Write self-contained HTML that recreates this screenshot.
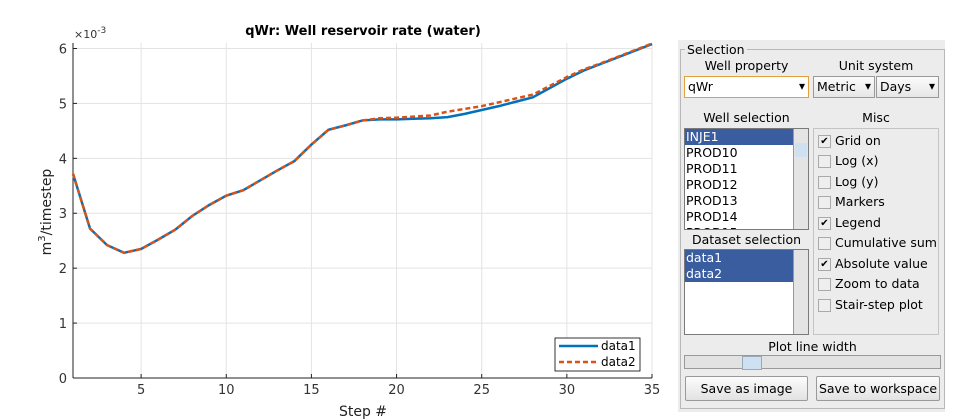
<!DOCTYPE html>
<html><head><meta charset="utf-8"><style>
body{margin:0;width:970px;height:420px;background:#fff;position:relative;overflow:hidden;font-family:"DejaVu Sans","Liberation Sans",sans-serif;}
.a{position:absolute;}
.p{font-size:12.5px;color:#000;}
.lb{background:#fff;border:1px solid #7a7a7a;box-sizing:border-box;overflow:hidden}
.row{height:16px;line-height:16px;font-size:12.5px;padding-left:1px;white-space:nowrap}
.sel{background:#3a5da0;color:#fff}
.sb{position:absolute;right:0;top:0;bottom:0;width:14px;background:#e4e4e4;border-left:1px solid #999}
.pop{background:linear-gradient(#fbfbfb,#e6e6e6);border:1px solid #9a9a9a;box-sizing:border-box;font-size:12.5px;line-height:19px;padding-left:3px}
.pop:after{content:"▾";position:absolute;right:3px;top:0;font-size:12px}
.cb{position:absolute;left:4px;width:11px;height:11px;border:1px solid #aaa;background:#eee;font-size:10px;line-height:11px;text-align:center}
.ck{position:absolute;left:21px;font-size:12.5px;white-space:nowrap}
.btn{background:linear-gradient(#fcfcfc,#e2e2e2);border:1px solid #999;box-sizing:border-box;font-size:12.5px;text-align:center;line-height:23px;border-radius:2px}
</style></head><body>
<svg class="a" style="left:0;top:0" width="680" height="420">
<g id="grid"></g><g id="ticks"></g><g id="lines"></g>
<text x="363" y="35" text-anchor="middle" font-family="DejaVu Sans,sans-serif" font-weight="bold" font-size="13">qWr: Well reservoir rate (water)</text>
<text x="74" y="38" font-size="11" fill="#333" font-family="DejaVu Sans,sans-serif">×10<tspan dy="-5" font-size="9">-3</tspan></text>
<text transform="translate(51,212) rotate(-90)" text-anchor="middle" font-size="14" fill="#222" font-family="DejaVu Sans,sans-serif">m<tspan dy="-6" font-size="10">3</tspan><tspan dy="6">/timestep</tspan></text>
<text x="363" y="416" text-anchor="middle" font-size="14" fill="#222" font-family="DejaVu Sans,sans-serif">Step #</text>
<g>
<rect x="555" y="338" width="85" height="33" fill="#fff" stroke="#000" stroke-width="0.8"/>
<line x1="559" y1="346" x2="598" y2="346" stroke="#0072bd" stroke-width="2.5"/>
<text x="601" y="350" font-size="12" font-family="DejaVu Sans,sans-serif">data1</text>
<line x1="559" y1="362" x2="598" y2="362" stroke="#d95319" stroke-width="2.5" stroke-dasharray="5,3"/>
<text x="601" y="366" font-size="12" font-family="DejaVu Sans,sans-serif">data2</text>
</g>
</svg>
<script>
const steps=[1,2,3,4,5,6,7,8,9,10,11,12,13,14,15,16,17,18,19,20,21,22,23,24,25,26,27,28,29,30,31,32,33,34,35];
const data1=[3.72,2.72,2.42,2.28,2.35,2.52,2.7,2.95,3.15,3.32,3.42,3.6,3.78,3.95,4.25,4.52,4.6,4.69,4.71,4.71,4.72,4.73,4.75,4.81,4.88,4.95,5.03,5.11,5.28,5.45,5.6,5.72,5.84,5.96,6.08];
const data2=[3.72,2.72,2.42,2.28,2.35,2.52,2.7,2.95,3.15,3.32,3.42,3.6,3.78,3.95,4.25,4.52,4.6,4.69,4.73,4.74,4.76,4.78,4.85,4.9,4.95,5.02,5.09,5.16,5.32,5.48,5.62,5.73,5.85,5.97,6.09];
const xTicks=[5,10,15,20,25,30,35];
const yTicks=[0,1,2,3,4,5,6];
const X0=73,X1=652,Y0=378,Ymax=6.1,YT=43;
const xs=v=>X0+(v-1)/(35-1)*(X1-X0);
const ys=v=>Y0-v/Ymax*(Y0-YT);
const NS='http://www.w3.org/2000/svg';
function mk(t,a,p){const e=document.createElementNS(NS,t);for(const k in a)e.setAttribute(k,a[k]);p.appendChild(e);return e;}
const g=document.getElementById('grid'),tk=document.getElementById('ticks'),ln=document.getElementById('lines');
xTicks.forEach(v=>{const l=mk('line',{x1:xs(v),x2:xs(v),y1:YT,y2:Y0,stroke:'#e3e3e3'},g);


mk('line',{x1:xs(v),x2:xs(v),y1:Y0,y2:Y0-4,stroke:'#222'},tk);
const t=mk('text',{x:xs(v),y:Y0+16,'text-anchor':'middle','font-size':13,fill:'#333','font-family':'DejaVu Sans,sans-serif'},tk);t.textContent=v;

});
yTicks.forEach(v=>{const l=mk('line',{x1:X0,x2:X1,y1:ys(v),y2:ys(v),stroke:'#e3e3e3'},g);


mk('line',{x1:X0,x2:X0+4,y1:ys(v),y2:ys(v),stroke:'#222'},tk);
const t=mk('text',{x:X0-6,y:ys(v)+5,'text-anchor':'end','font-size':13,fill:'#333','font-family':'DejaVu Sans,sans-serif'},tk);t.textContent=v;

});
mk('line',{x1:X0,x2:X1,y1:Y0,y2:Y0,stroke:'#222'},tk);
mk('line',{x1:X0,x2:X0,y1:YT,y2:Y0,stroke:'#222'},tk);
const p1=mk('polyline',{points:steps.map((s,i)=>xs(s)+','+ys(data1[i])).join(' '),fill:'none',stroke:'#0072bd','stroke-width':2.5},ln);


const p2=mk('polyline',{points:steps.map((s,i)=>xs(s)+','+ys(data2[i])).join(' '),fill:'none',stroke:'#d95319','stroke-width':2.5,'stroke-dasharray':'5,3'},ln);


</script>
<div class="a" style="left:678px;top:40px;width:267px;height:372px;background:#ececec">
<div class="a" style="left:2px;top:9px;width:263px;height:358px;border:1px solid #b8b8b8"></div>
<div class="a p" style="left:7px;top:2px;background:#ececec;padding:0 2px">Selection</div>
<div class="a p" style="left:6px;top:18px;width:125px;text-align:center">Well property</div>
<div class="a p" style="left:135px;top:18px;width:126px;text-align:center">Unit system</div>
<div class="a pop" style="left:6px;top:36px;width:125px;height:22px;border-color:#e0a040;background:#fff">qWr</div>
<div class="a pop" style="left:135px;top:36px;width:62px;height:22px">Metric</div>
<div class="a pop" style="left:198px;top:36px;width:63px;height:22px">Days</div>
<div class="a p" style="left:6px;top:70px;width:125px;text-align:center">Well selection</div>
<div class="a p" style="left:135px;top:70px;width:126px;text-align:center">Misc</div>
<div class="a lb" style="left:6px;top:88px;width:125px;height:102px">
<div class="row sel">INJE1</div><div class="row">PROD10</div><div class="row">PROD11</div><div class="row">PROD12</div><div class="row">PROD13</div><div class="row">PROD14</div><div class="row">PROD15</div>
<div class="sb"><div class="a" style="left:1px;top:14px;width:12px;height:14px;background:#cfe0f0"></div></div></div>
<div class="a p" style="left:6px;top:192px;width:125px;text-align:center">Dataset selection</div>
<div class="a lb" style="left:6px;top:209px;width:125px;height:86px">
<div class="row sel">data1</div><div class="row sel">data2</div><div class="sb"></div></div>
<div class="a" style="left:135px;top:88px;width:126px;height:207px;border:1px solid #c4c4c4;box-sizing:border-box">
<div class="cb" style="top:6px">✔</div><div class="ck" style="top:4px">Grid on</div>
<div class="cb" style="top:26px"></div><div class="ck" style="top:24px">Log (x)</div>
<div class="cb" style="top:47px"></div><div class="ck" style="top:45px">Log (y)</div>
<div class="cb" style="top:67px"></div><div class="ck" style="top:65px">Markers</div>
<div class="cb" style="top:88px">✔</div><div class="ck" style="top:86px">Legend</div>
<div class="cb" style="top:108px"></div><div class="ck" style="top:106px">Cumulative sum</div>
<div class="cb" style="top:129px">✔</div><div class="ck" style="top:127px">Absolute value</div>
<div class="cb" style="top:149px"></div><div class="ck" style="top:147px">Zoom to data</div>
<div class="cb" style="top:170px"></div><div class="ck" style="top:168px">Stair-step plot</div>
</div>
<div class="a p" style="left:6px;top:299px;width:257px;text-align:center">Plot line width</div>
<div class="a" style="left:6px;top:315px;width:257px;height:14px;background:#e2e2e2;border:1px solid #999;box-sizing:border-box">
<div class="a" style="left:57px;top:0;width:18px;height:12px;background:#cfe0f0;border:1px solid #9ab"></div></div>
<div class="a btn" style="left:7px;top:336px;width:123px;height:25px">Save as image</div>
<div class="a btn" style="left:138px;top:336px;width:124px;height:25px">Save to workspace</div>
</div>
</body></html>
